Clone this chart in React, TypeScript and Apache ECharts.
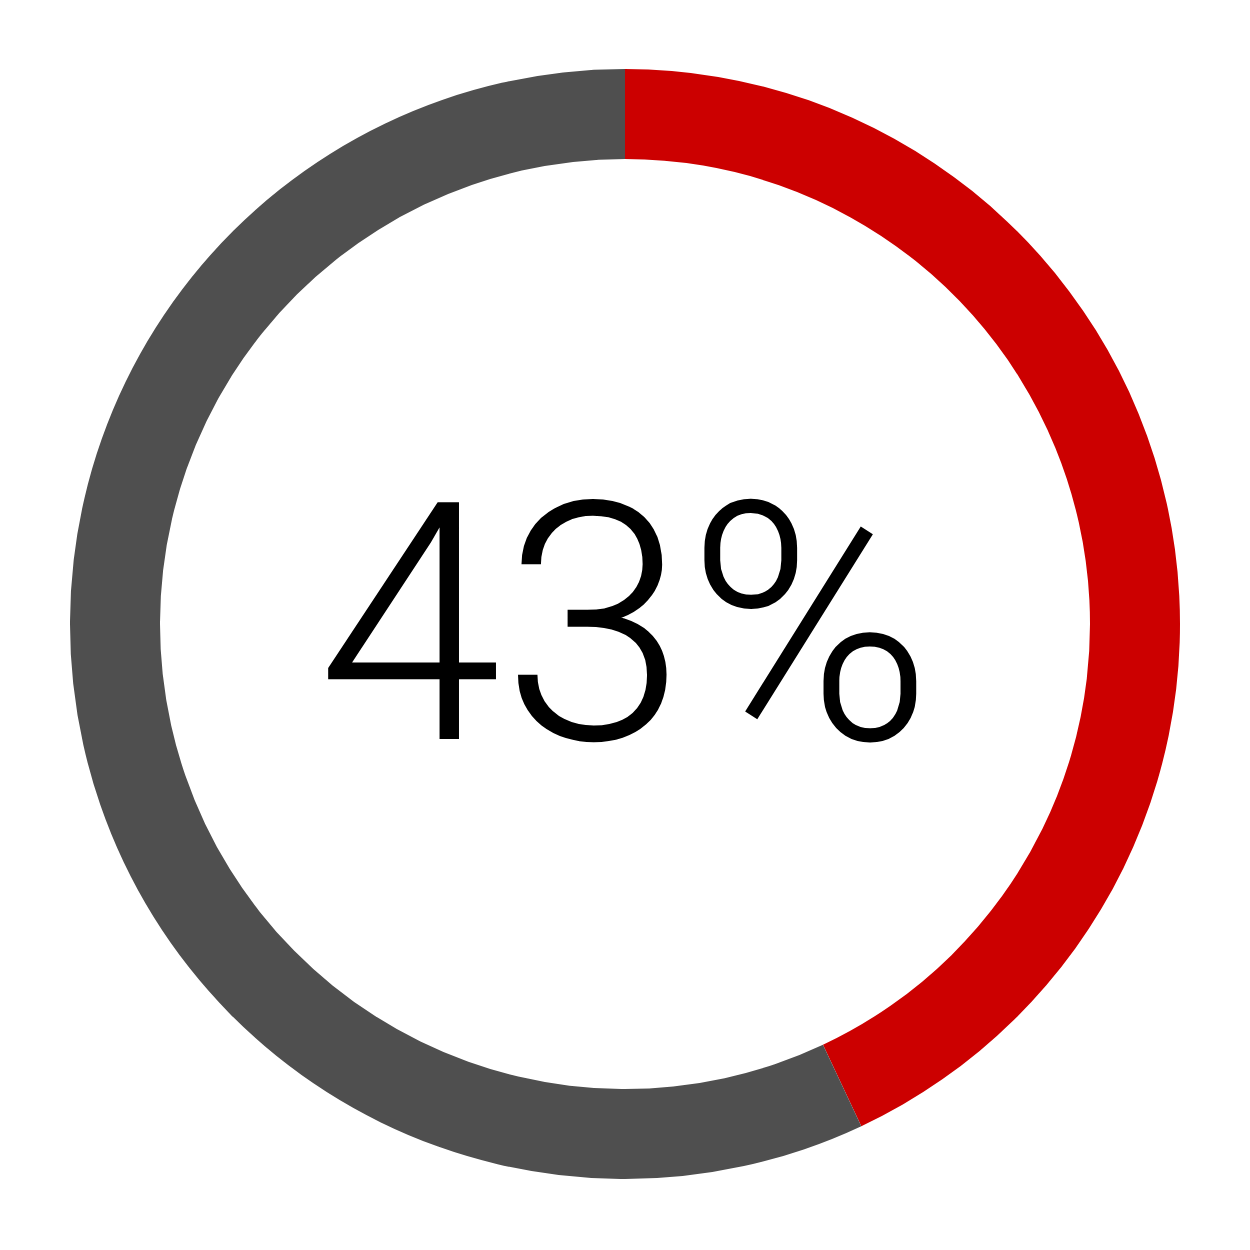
import React, { useEffect, useRef } from "react";
import * as echarts from "echarts";

const categories = ["Yes", "No"];
const values = [43, 57];
const colors = ["#CC0000", "#4F4F4F"];
const centerLabel = "43%";

export default function App() {
  const ref = useRef<HTMLDivElement>(null);
  useEffect(() => {
    if (!ref.current) return;
    const chart = echarts.init(ref.current, null, { renderer: "svg" });
    chart.setOption({
      animation: false,
      backgroundColor: "#ffffff",
      series: [
        {
          type: "pie",
          center: [625, 624],
          radius: [465, 555],
          startAngle: 90,
          clockwise: true,
          label: { show: false },
          labelLine: { show: false },
          silent: true,
          itemStyle: { borderWidth: 0 },
          data: categories.map((c, i) => ({
            name: c,
            value: values[i],
            itemStyle: { color: colors[i] },
          })),
        },
      ],
      graphic: [
        {
          type: "text",
          x: 625,
          y: 625,
          style: {
            text: centerLabel,
            fontFamily: "Roboto",
            fontWeight: 300,
            fontSize: 333,
            fill: "#000000",
            textAlign: "center",
            textVerticalAlign: "middle",
          },
        },
      ],
    });
    return () => chart.dispose();
  }, []);
  return (
    <div
      ref={ref}
      style={{ position: "fixed", left: 0, top: 0, width: 1250, height: 1250 }}
    />
  );
}
